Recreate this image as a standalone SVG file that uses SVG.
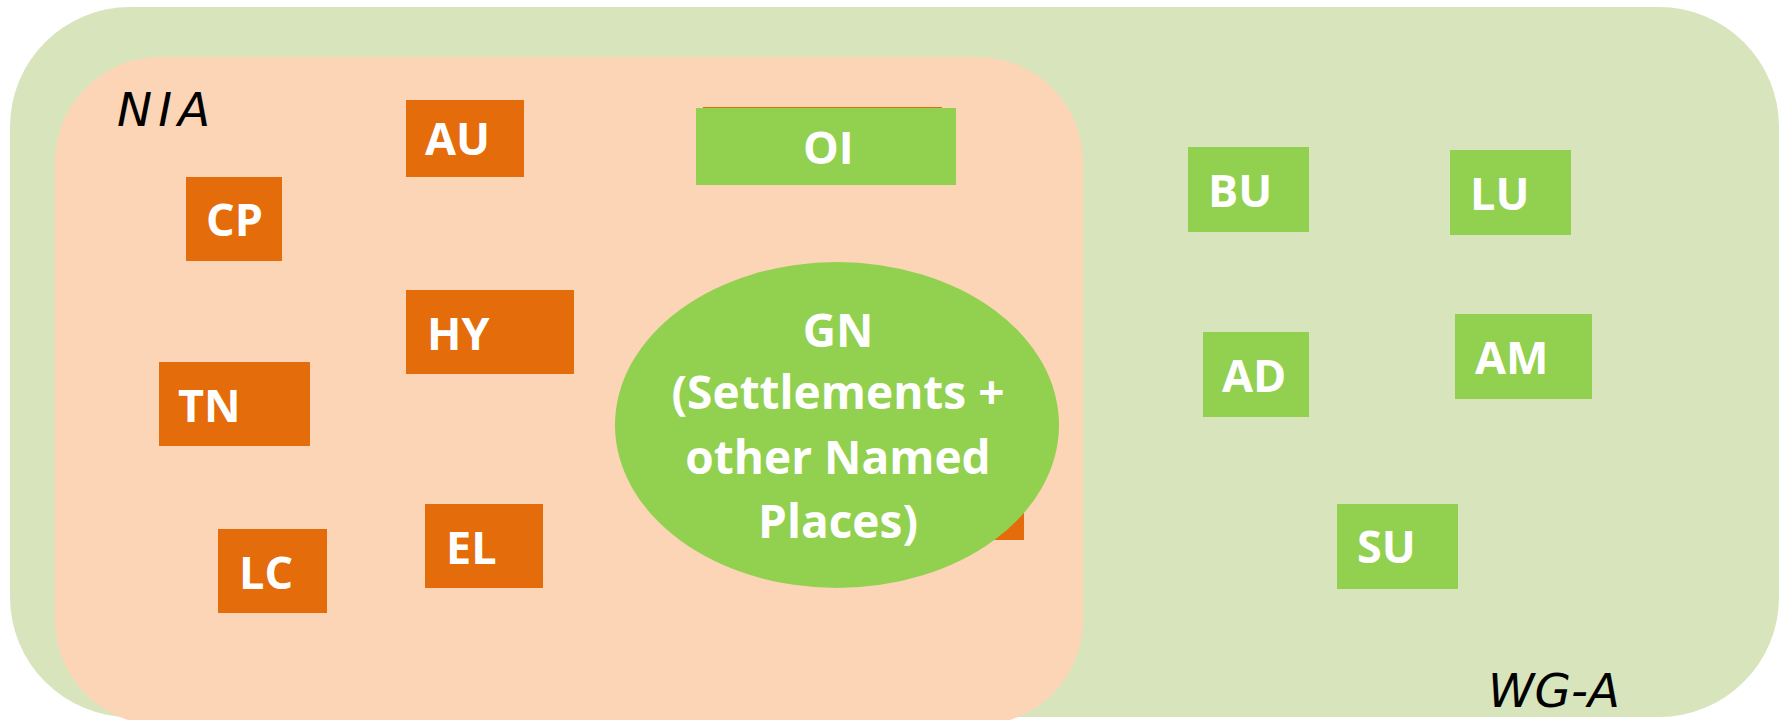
<svg xmlns="http://www.w3.org/2000/svg" width="1783" height="720" viewBox="0 0 1783 720">
<style>
.org{fill:#E46C0A}
.grn{fill:#92D050}
.lbl{font-family:"Open Sans","Noto Sans",sans-serif;font-weight:bold;font-size:45px;fill:#FFFFFF}
.gn{font-size:46px}
.hand{font-family:"DejaVu Sans",sans-serif;font-style:oblique;font-size:47px;fill:#000000}
</style>
<rect width="1783" height="720" fill="#FFFFFF"/>
<g id="WG-A">
<rect x="10" y="7" width="1769" height="710" rx="120" ry="120" fill="#D8E4BC"/>
<text class="hand" x="1488" y="707" font-size="46">WG-A</text>
</g>
<g id="NIA">
<rect x="55" y="57" width="1028" height="668" rx="105" ry="105" fill="#FBD5B5"/>
<text class="hand" x="117" y="126" font-size="50" letter-spacing="6">NIA</text>
</g>
<g id="AU"><rect class="org" x="406" y="100" width="118" height="77"/><text class="lbl" x="425" y="155">AU</text></g>
<g id="CP"><rect class="org" x="186" y="177" width="96" height="84"/><text class="lbl" x="206" y="236">CP</text></g>
<g id="HY"><rect class="org" x="406" y="290" width="168" height="84"/><text class="lbl" x="427" y="350">HY</text></g>
<g id="TN"><rect class="org" x="159" y="362" width="151" height="84"/><text class="lbl" x="178" y="422">TN</text></g>
<g id="LC"><rect class="org" x="218" y="529" width="109" height="84"/><text class="lbl" x="239" y="589">LC</text></g>
<g id="EL"><rect class="org" x="425" y="504" width="118" height="84"/><text class="lbl" x="446" y="564">EL</text></g>
<g id="OI-orange"><rect class="org" x="703" y="107" width="239" height="70"/></g>
<g id="OI"><rect class="grn" x="696" y="108" width="260" height="77"/><text class="lbl" x="803" y="164">OI</text></g>
<g id="hidden-orange"><rect class="org" x="900" y="458" width="124" height="82"/></g>
<g id="GN">
<ellipse class="grn" cx="837" cy="425" rx="222" ry="163"/>
<text class="lbl gn" text-anchor="middle" x="838" y="347">GN</text>
<text class="lbl gn" text-anchor="middle" x="838" y="409">(Settlements +</text>
<text class="lbl gn" text-anchor="middle" x="838" y="474">other Named</text>
<text class="lbl gn" text-anchor="middle" x="838" y="538">Places)</text>
</g>
<g id="BU"><rect class="grn" x="1188" y="147" width="121" height="85"/><text class="lbl" x="1208" y="207">BU</text></g>
<g id="LU"><rect class="grn" x="1450" y="150" width="121" height="85"/><text class="lbl" x="1470" y="210">LU</text></g>
<g id="AD"><rect class="grn" x="1203" y="332" width="106" height="85"/><text class="lbl" x="1222" y="392">AD</text></g>
<g id="AM"><rect class="grn" x="1455" y="314" width="137" height="85"/><text class="lbl" x="1475" y="374">AM</text></g>
<g id="SU"><rect class="grn" x="1337" y="504" width="121" height="85"/><text class="lbl" x="1357" y="563">SU</text></g>
<g id="connectors"></g>
</svg>
